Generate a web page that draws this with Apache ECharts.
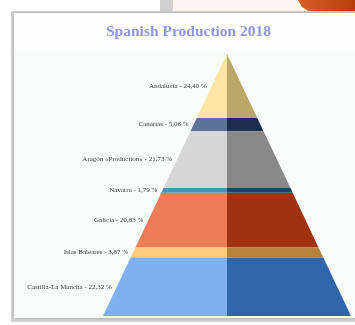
<!DOCTYPE html>
<html>
<head>
<meta charset="utf-8">
<script src="https://cdn.jsdelivr.net/npm/echarts@6/dist/echarts.min.js"></script>
<style>
  html, body { margin: 0; padding: 0; background: #ffffff; }
  #chart { width: 355px; height: 325px; }
</style>
</head>
<body>
<div id="chart"></div>
<script>
// Regional shares, top of the pyramid first
var regions = ['Andalucía', 'Canarias', 'Aragón «Production»', 'Navarra', 'Galicia', 'Islas Baleares', 'Castilla-La Mancha'];
var shares = [24.40, 5.06, 21.73, 1.79, 20.83, 3.87, 22.32];
var lightColors = ['#fde6a2', '#5b7396', '#d6d6d6', '#4a93b8', '#ee7d57', '#fdcc7c', '#7fb0f2'];
var darkColors  = ['#bba766', '#1b2e52', '#888888', '#0e4a6a', '#a0330f', '#b5843a', '#3166ad'];

var total = shares.reduce(function (a, b) { return a + b; }, 0);
var segments = [];
var acc = 0;
for (var i = 0; i < shares.length; i++) {
  var start = acc / total * 100;
  acc += shares[i];
  var end = acc / total * 100;
  segments.push([start, end, i]);
}

function fmt(v) { return v.toFixed(2).replace('.', ',') + ' %'; }

var chart = echarts.init(document.getElementById('chart'), null, { renderer: 'canvas' });

chart.setOption({
  animation: false,
  backgroundColor: '#ffffff',
  title: {
    text: 'Spanish Production 2018',
    left: 106,
    top: 24,
    padding: 0,
    textStyle: { fontFamily: 'Liberation Serif', fontWeight: 'bold', fontSize: 15.5, color: '#8f96e6' }
  },
  graphic: [
    { type: 'rect', z: -10, shape: { x: 160, y: 0, width: 13, height: 13 }, style: { fill: '#d0d0d0' } },
    { type: 'rect', z: -10, shape: { x: 173, y: 0, width: 130, height: 13 }, style: { fill: '#fbf4f1' } },
    { type: 'polygon', z: -10, shape: { points: [[298, 0], [355, 0], [355, 12], [310, 12], [302, 7]] },
      style: { fill: new echarts.graphic.LinearGradient(0, 0, 1, 1, [{ offset: 0, color: '#d9602a' }, { offset: 1, color: '#b83c08' }]) } },
    { type: 'rect', z: -9, shape: { x: 11, y: 11, width: 350, height: 311 }, style: { fill: '#d2d2d2' } },
    { type: 'rect', z: -8, shape: { x: 14, y: 13, width: 345, height: 305 }, style: { fill: '#fafbfb', shadowBlur: 3, shadowColor: 'rgba(0,0,0,0.25)' } },
    { type: 'rect', z: -7, shape: { x: 14, y: 13, width: 345, height: 36 }, style: { fill: '#fefefe' } }
  ],
  grid: { left: 103, right: 4, top: 54, bottom: 9 },
  xAxis: { type: 'value', min: -1, max: 1, show: false },
  yAxis: { type: 'value', min: 0, max: 100, inverse: true, show: false },
  series: [{
    type: 'custom',
    coordinateSystem: 'cartesian2d',
    data: segments,
    renderItem: function (params, api) {
      var s = api.value(0), e = api.value(1), idx = api.value(2);
      var sw = s / 100, ew = e / 100, mid = (s + e) / 2;
      var tl = api.coord([-sw, s]), tc = api.coord([0, s]), tr = api.coord([sw, s]);
      var bl = api.coord([-ew, e]), bc = api.coord([0, e]), br = api.coord([ew, e]);
      var edge = api.coord([-mid / 100, mid]);
      return {
        type: 'group',
        children: [
          { type: 'polygon', shape: { points: [tl, tc, bc, bl] }, style: { fill: lightColors[idx] } },
          { type: 'polygon', shape: { points: [tc, tr, br, bc] }, style: { fill: darkColors[idx] } },
          { type: 'text', x: edge[0] - 5, y: edge[1],
            style: { text: regions[idx] + ' - ' + fmt(shares[idx]), align: 'right', verticalAlign: 'middle',
                     fontFamily: 'Liberation Serif', fontSize: 7, fill: '#3a3a3a' } }
        ]
      };
    }
  }]
});
</script>
</body>
</html>
